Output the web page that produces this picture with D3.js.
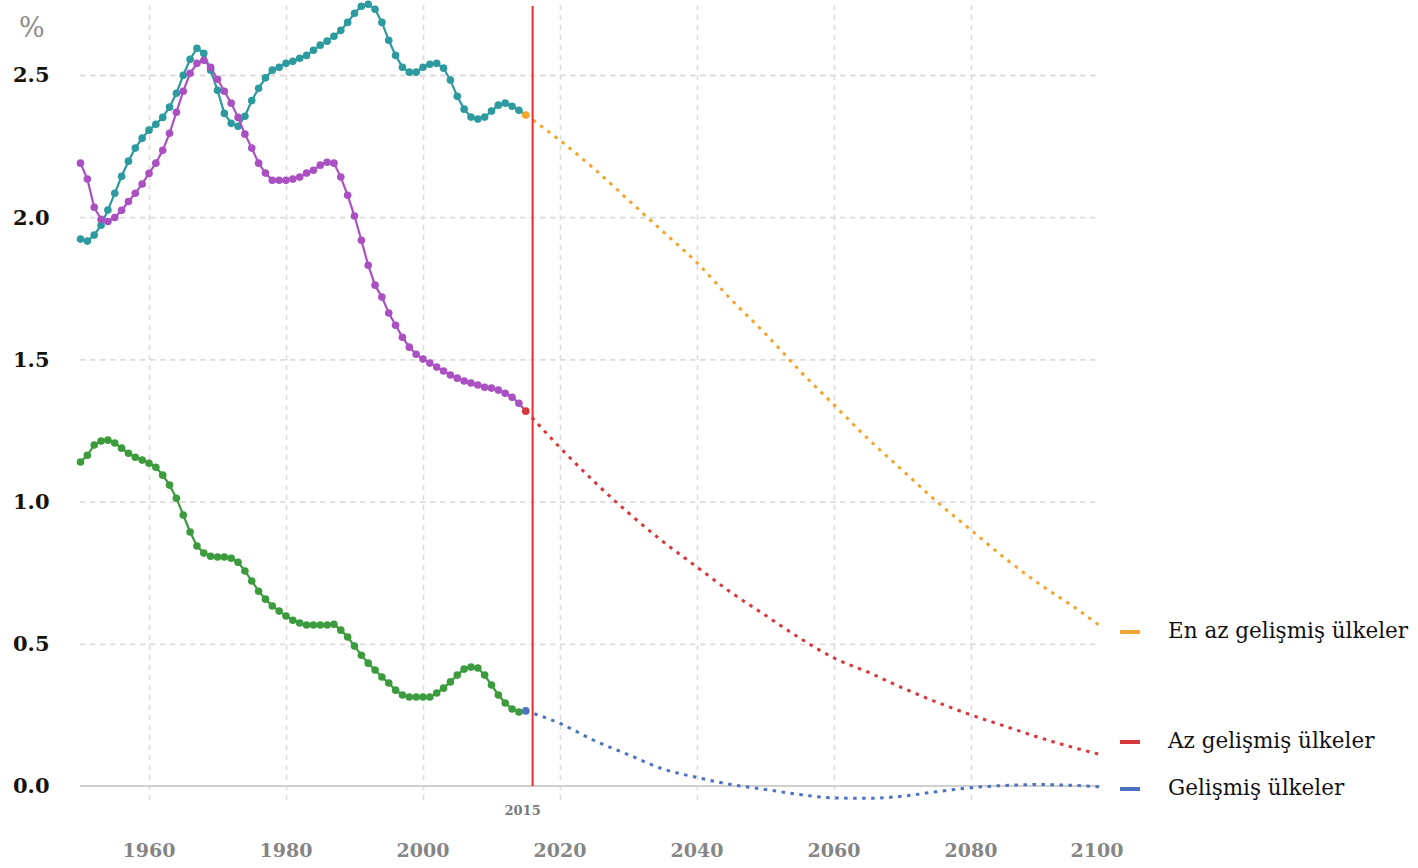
<!DOCTYPE html>
<html>
<head>
<meta charset="utf-8">
<script src="https://cdn.jsdelivr.net/npm/d3@7"></script>
<style>
  body { margin: 0; background: #fff; }
  svg { display: block; font-family: "DejaVu Serif", serif; }
</style>
</head>
<body>
<svg class="chart"></svg>
<script>
var svgWidth = 1418, svgHeight = 868;

// historic series, one value per year 1950..2015
var histStart = 1950;
var leastDeveloped = [1.923, 1.916, 1.937, 1.972, 2.025, 2.084, 2.144, 2.197, 2.243, 2.278,
  2.306, 2.327, 2.351, 2.387, 2.436, 2.499, 2.555, 2.594, 2.576, 2.517,
  2.446, 2.365, 2.33, 2.32, 2.355, 2.41, 2.453, 2.49, 2.517, 2.527,
  2.541, 2.548, 2.559, 2.569, 2.587, 2.605, 2.619, 2.636, 2.657, 2.685,
  2.717, 2.742, 2.749, 2.731, 2.685, 2.622, 2.569, 2.527, 2.51, 2.51,
  2.527, 2.538, 2.541, 2.524, 2.482, 2.425, 2.38, 2.352, 2.345, 2.352,
  2.373, 2.394, 2.401, 2.39, 2.376, 2.359];
var lessDeveloped = [2.19, 2.134, 2.035, 1.993, 1.985, 1.999, 2.024, 2.055, 2.084, 2.117,
  2.154, 2.19, 2.235, 2.295, 2.369, 2.443, 2.506, 2.541, 2.552, 2.527,
  2.485, 2.443, 2.401, 2.351, 2.292, 2.243, 2.19, 2.155, 2.13, 2.13,
  2.13, 2.134, 2.141, 2.155, 2.165, 2.183, 2.193, 2.19, 2.141, 2.077,
  2.004, 1.919, 1.831, 1.761, 1.719, 1.663, 1.62, 1.578, 1.543, 1.518,
  1.501, 1.487, 1.473, 1.459, 1.445, 1.434, 1.424, 1.417, 1.41, 1.402,
  1.399, 1.392, 1.381, 1.367, 1.346, 1.318];
var developed = [1.139, 1.163, 1.199, 1.213, 1.216, 1.206, 1.188, 1.17, 1.156, 1.146,
  1.135, 1.121, 1.093, 1.058, 1.012, 0.953, 0.893, 0.844, 0.819, 0.808,
  0.805, 0.805, 0.801, 0.787, 0.756, 0.721, 0.685, 0.657, 0.633, 0.615,
  0.598, 0.583, 0.573, 0.566, 0.566, 0.566, 0.566, 0.569, 0.548, 0.524,
  0.492, 0.46, 0.432, 0.408, 0.383, 0.362, 0.337, 0.32, 0.313, 0.313,
  0.313, 0.313, 0.327, 0.344, 0.366, 0.39, 0.411, 0.418, 0.415, 0.39,
  0.355, 0.32, 0.292, 0.271, 0.26, 0.264];

// projections
var projYears = [2015, 2020, 2025, 2030, 2035, 2040, 2045, 2050, 2055, 2060,
  2065, 2070, 2075, 2080, 2085, 2090, 2095, 2099];
var projLeast = [2.36, 2.27, 2.17, 2.06, 1.95, 1.84, 1.71, 1.59, 1.46, 1.34,
  1.22, 1.11, 1.0, 0.9, 0.8, 0.71, 0.63, 0.56];
var projLess = [1.32, 1.19, 1.07, 0.96, 0.86, 0.77, 0.68, 0.6, 0.52, 0.45,
  0.4, 0.345, 0.295, 0.25, 0.21, 0.17, 0.135, 0.11];
var projDeveloped = [0.264, 0.22, 0.16, 0.11, 0.06, 0.03, 0.005, -0.012, -0.03, -0.042,
  -0.043, -0.036, -0.02, -0.006, 0.002, 0.005, 0.002, -0.003];

var xTicks = [1960, 1980, 2000, 2020, 2040, 2060, 2080, 2100];
var gridYears = [1960, 1980, 2000, 2020, 2040, 2060, 2080];
var yTicks = [0, 0.5, 1.0, 1.5, 2.0, 2.5];
var markerYear = 2016, markerLabel = '2015';

var legendNames = ['En az gelişmiş ülkeler', 'Az gelişmiş ülkeler', 'Gelişmiş ülkeler'];
var legendColors = ['#f4a530', '#d8363d', '#4a73c2'];
var histColors = ['#2c9a9e', '#aa50c2', '#3b9b3d'];

var svg = d3.select('svg.chart').attr('width', svgWidth).attr('height', svgHeight);

var x = d3.scaleLinear().domain([1950, 2100]).range([80.5, 1108]);
var y = d3.scaleLinear().domain([0, 2.5]).range([786, 75]);
var plotLeft = 80, plotRight = 1100;

// vertical grid
svg.append('g')
    .attr('class', 'vgrid')
    .attr('transform', 'translate(0,800)')
    .call(d3.axisBottom(x).tickValues(gridYears).tickSize(-795).tickFormat(''))
    .call(function(g) { g.select('.domain').remove(); })
    .selectAll('line')
    .attr('stroke', '#dcdcdc')
    .attr('stroke-width', 1.6)
    .attr('stroke-dasharray', '5,5');

// horizontal grid
svg.append('g')
    .attr('class', 'hgrid')
    .attr('transform', 'translate(' + plotLeft + ',0)')
    .call(d3.axisLeft(y).tickValues(yTicks.filter(function(d) { return d > 0; }))
      .tickSize(-(plotRight - plotLeft)).tickFormat(''))
    .call(function(g) { g.select('.domain').remove(); })
    .selectAll('line')
    .attr('stroke', '#dcdcdc')
    .attr('stroke-width', 1.8)
    .attr('stroke-dasharray', '5.5,4.5');

// zero line
svg.append('line')
    .attr('x1', plotLeft).attr('x2', plotRight)
    .attr('y1', y(0)).attr('y2', y(0))
    .attr('stroke', '#cfcfcf')
    .attr('stroke-width', 2);

// y labels
svg.append('g')
    .selectAll('text')
    .data(yTicks)
    .enter()
    .append('text')
    .attr('x', 13)
    .attr('y', function(d) { return y(d); })
    .attr('dy', '0.35em')
    .attr('font-size', 21)
    .attr('font-weight', 'bold')
    .attr('fill', '#161208')
    .text(function(d) { return d3.format('.1f')(d); });

svg.append('text')
    .attr('x', 19).attr('y', 37)
    .attr('font-size', 27)
    .attr('fill', '#8c8c8c')
    .text('%');

// x labels
svg.append('g')
    .selectAll('text')
    .data(xTicks)
    .enter()
    .append('text')
    .attr('x', function(d) { return d === 2100 ? x(d) - 11 : x(d); })
    .attr('y', 857)
    .attr('text-anchor', 'middle')
    .attr('font-size', 19)
    .attr('font-weight', 'bold')
    .attr('fill', '#858585')
    .text(function(d) { return d; });

// projections
var projLine = d3.line()
    .x(function(d) { return x(d[0]); })
    .y(function(d) { return y(d[1]); })
    .curve(d3.curveMonotoneX);

[projLeast, projLess, projDeveloped].forEach(function(vals, i) {
  svg.append('path')
      .attr('class', 'proj')
      .datum(projYears.map(function(yr, j) { return [yr, vals[j]]; }))
      .attr('d', projLine)
      .attr('fill', 'none')
      .attr('stroke', legendColors[i])
      .attr('stroke-width', 3)
      .attr('stroke-dasharray', '3.5,5.5');
});

// historic
var histLine = d3.line()
    .x(function(d) { return x(d[0]); })
    .y(function(d) { return y(d[1]); });

[leastDeveloped, lessDeveloped, developed].forEach(function(vals, i) {
  var pts = vals.map(function(v, j) { return [histStart + j, v]; });
  var g = svg.append('g').attr('class', 'hist');
  g.append('path')
      .datum(pts)
      .attr('d', histLine)
      .attr('fill', 'none')
      .attr('stroke', histColors[i])
      .attr('stroke-width', 2.2);
  g.selectAll('circle')
      .data(pts)
      .enter()
      .append('circle')
      .attr('cx', function(d) { return x(d[0]); })
      .attr('cy', function(d) { return y(d[1]); })
      .attr('r', 3.8)
      .attr('fill', function(d, j) { return j === pts.length - 1 ? legendColors[i] : histColors[i]; });
});

// 2015 marker line
svg.append('line')
    .attr('x1', x(markerYear)).attr('x2', x(markerYear))
    .attr('y1', 6).attr('y2', y(0))
    .attr('stroke', '#ee2a2f')
    .attr('stroke-width', 2);

svg.append('text')
    .attr('x', x(markerYear) - 10)
    .attr('y', 815)
    .attr('text-anchor', 'middle')
    .attr('font-size', 13)
    .attr('font-weight', 'bold')
    .attr('fill', '#7a7a7a')
    .text(markerLabel);

// legend
var legendY = [632, 742, 789];
var legend = svg.append('g').attr('class', 'legend');
legend.selectAll('rect')
    .data(legendNames)
    .enter()
    .append('rect')
    .attr('x', 1120)
    .attr('y', function(d, i) { return legendY[i] - 2; })
    .attr('width', 20)
    .attr('height', 4)
    .attr('fill', function(d, i) { return legendColors[i]; });
legend.selectAll('text')
    .data(legendNames)
    .enter()
    .append('text')
    .attr('x', 1168)
    .attr('y', function(d, i) { return legendY[i]; })
    .attr('dy', '0.3em')
    .attr('font-size', 21.5)
    .attr('fill', '#111')
    .text(function(d) { return d; });
</script>
</body>
</html>
